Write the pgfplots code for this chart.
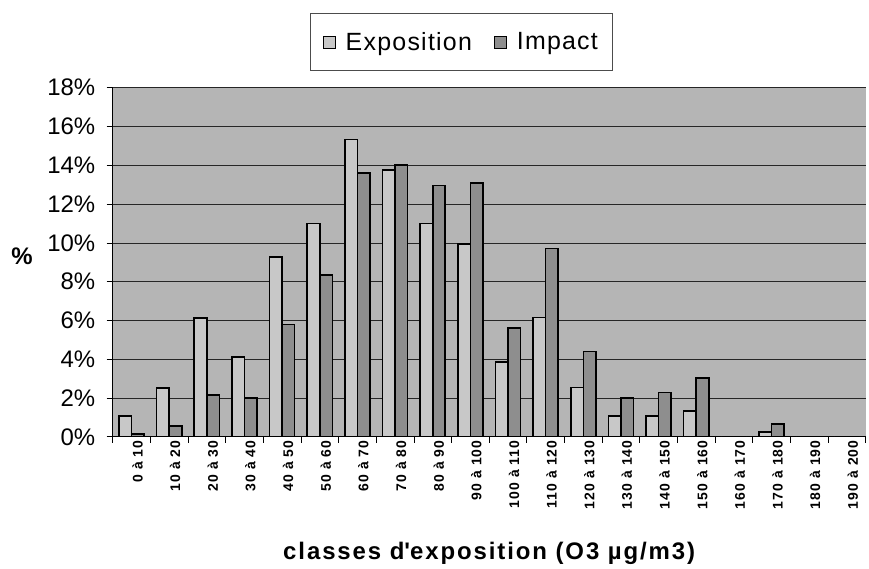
\documentclass[border=0pt]{standalone}
\usepackage{fontspec}
\setmainfont{Liberation Sans}
\usepackage{pgfplots}
\pgfplotsset{compat=1.18}
\definecolor{bgc}{HTML}{B5B5B5}
\definecolor{expo}{HTML}{C8C8C8}
\definecolor{impc}{HTML}{8E8E8E}
\pgfplotsset{sqleg/.style={legend image code/.code={\draw[##1, line width=1pt] (0pt,-6pt) rectangle (12pt,6pt);}}}
\begin{document}
\begin{tikzpicture}
\begin{axis}[
  scale only axis, width=755pt, height=350pt,
  xmin=-0.5, xmax=19.5, ymin=0, ymax=18,
  axis x line*=bottom, axis y line*=left,
  axis line style={black, line width=0.8pt},
  axis background/.style={fill=bgc},
  ybar=0pt, bar width=12.6pt,
  every axis plot post/.append style={sqleg},
  ytick={0,2,...,18},
  yticklabel={\pgfmathprintnumber{\tick}\%},
  /pgf/number format/assume math mode=true,
  yticklabel style={font=\fontsize{24}{28}\selectfont, xshift=-8pt},
  ymajorgrids, grid style={black!85, line width=0.7pt},
  tick align=outside, major tick length=6pt,
  tick style={black, line width=0.7pt},
  xtick={-0.5,0.5,...,19.5}, xticklabels={},
  extra x ticks={0,1,...,19},
  extra x tick labels={0 à 10,10 à 20,20 à 30,30 à 40,40 à 50,50 à 60,60 à 70,70 à 80,80 à 90,90 à 100,100 à 110,110 à 120,120 à 130,130 à 140,140 à 150,150 à 160,160 à 170,170 à 180,180 à 190,190 à 200},
  extra x tick style={major tick length=0pt, grid=none,
    xticklabel style={rotate=90, anchor=east, yshift=-6pt,
      font=\fontsize{14}{16}\selectfont\bfseries\addfontfeatures{LetterSpace=8}}},
  xlabel={classes d\textquotesingle exposition (O3 µg/m3)},
  xlabel style={at={(rel axis cs:0.5,0)}, anchor=center, yshift=-117pt,
    font=\fontsize{24}{28}\selectfont\bfseries\addfontfeatures{LetterSpace=8}},
  ylabel={\%},
  ylabel style={at={(rel axis cs:0,0.517)}, anchor=center, rotate=-90, xshift=-91pt,
    font=\fontsize{24}{28}\selectfont\bfseries},
  legend columns=2,
  legend style={at={(0.463,1.131)}, anchor=center, draw=black!70, line width=0.6pt,
    fill=white, font=\fontsize{25}{30}\selectfont\addfontfeatures{LetterSpace=5},
    inner xsep=12pt, inner ysep=17pt,
    /tikz/every odd column/.append style={column sep=8pt},
    /tikz/every even column/.append style={column sep=20pt}},
]
\addplot[fill=expo, draw=black, line width=1.6pt] coordinates {
(0,1.08) (1,2.52) (2,6.13) (3,4.12) (4,9.27) (5,11.0) (6,15.33) (7,13.77) (8,10.99) (9,9.94)
(10,3.87) (11,6.15) (12,2.54) (13,1.07) (14,1.07) (15,1.34) (16,0) (17,0.26) (18,0) (19,0)};
\addplot[fill=impc, draw=black, line width=1.6pt] coordinates {
(0,0.15) (1,0.55) (2,2.15) (3,2.01) (4,5.80) (5,8.36) (6,13.61) (7,14.03) (8,12.96) (9,13.08)
(10,5.60) (11,9.71) (12,4.40) (13,1.99) (14,2.29) (15,3.02) (16,0) (17,0.65) (18,0) (19,0)};
\legend{Exposition, Impact}
\coordinate (o) at (rel axis cs:0,0);
\end{axis}
\path (o) ++(-113pt,-131pt) rectangle ++(869pt,569pt);
\end{tikzpicture}
\end{document}
